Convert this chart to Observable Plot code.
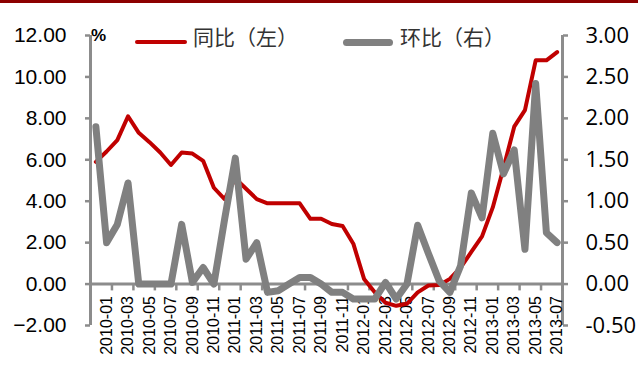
<!DOCTYPE html>
<html>
<head>
<meta charset="utf-8">
<script src="https://cdn.jsdelivr.net/npm/d3@7"></script>
<script src="https://cdn.jsdelivr.net/npm/@observablehq/plot@0.6"></script>
<style>
  html, body { margin: 0; padding: 0; background: #fff; }
  #chart { position: relative; width: 638px; height: 383px; overflow: hidden; }
  #chart svg { position: absolute; left: 0; top: 0; }
  #topbar { position: absolute; left: 0; top: 0; width: 638px; height: 3px; background: #8c0000; }
  .unit { position: absolute; left: 91px; top: 27px; font: bold 17px "Liberation Sans", Arial, sans-serif; color: #000; line-height: 17px; }
  .swatch { position: absolute; }
  .ltext { position: absolute; top: 26px; font-family: "Noto Sans CJK SC", sans-serif; font-size: 21px; line-height: 21px; color: #333; white-space: nowrap; }
</style>
</head>
<body>
<div id="chart">
  <div id="topbar"></div>
  <div class="unit">%</div>
  <div class="swatch" style="left:135px;top:40px;width:52px;height:4px;border-radius:2px;background:#c00000;"></div>
  <div class="ltext" style="left:193px;">同比（左）</div>
  <div class="swatch" style="left:343px;top:38.5px;width:50px;height:7px;border-radius:3.5px;background:#808080;"></div>
  <div class="ltext" style="left:400px;">环比（右）</div>
</div>
<script>
// Monthly periods, Dec 2009 – Jul 2013
const months = [
  "2009-12",
  "2010-01","2010-02","2010-03","2010-04","2010-05","2010-06","2010-07","2010-08","2010-09","2010-10","2010-11","2010-12",
  "2011-01","2011-02","2011-03","2011-04","2011-05","2011-06","2011-07","2011-08","2011-09","2011-10","2011-11","2011-12",
  "2012-01","2012-02","2012-03","2012-04","2012-05","2012-06","2012-07","2012-08","2012-09","2012-10","2012-11","2012-12",
  "2013-01","2013-02","2013-03","2013-04","2013-05","2013-06","2013-07"
];

// Year-on-year change, % (left axis)
const yoy = [
  5.9, 6.4, 6.95, 8.1, 7.3, 6.85, 6.35, 5.75, 6.35, 6.3,
  5.95, 4.65, 4.1, 5.1, 4.6, 4.1, 3.9, 3.9, 3.9, 3.9,
  3.15, 3.15, 2.9, 2.8, 1.95, 0.25, -0.4, -0.9, -1.05, -0.95,
  -0.4, -0.07, -0.05, 0.25, 0.8, 1.55, 2.3, 3.7, 5.6, 7.6,
  8.4, 10.8, 10.8, 11.2
];

// Month-on-month change, % (right axis)
const mom = [
  1.9, 0.5, 0.72, 1.22, 0, 0, 0, 0, 0.72, 0.02,
  0.2, 0.0, 0.78, 1.52, 0.3, 0.5, -0.1, -0.08, 0.0, 0.08,
  0.08, 0.0, -0.1, -0.1, -0.18, -0.18, -0.18, 0.02, -0.18, 0.0,
  0.71, 0.37, 0.04, -0.1, 0.22, 1.1, 0.8, 1.82, 1.33, 1.62,
  0.42, 2.42, 0.62, 0.5
];

// Axis ticks
const leftTicks = [-2, 0, 2, 4, 6, 8, 10, 12];
const rightRatio = 4; // right axis spans -0.50..3.00 against -2..12 on the left

const rows = months.map((m, i) => ({i, month: m, yoy: yoy[i], mom: mom[i]}));
// Category labels every other month, tick marks on the boundaries between pairs
const labelRows = rows.filter(d => d.i % 2 === 1);
const tickBounds = labelRows.map(d => d.i + 0.5);

const axisColor = "#8c8c8c";

const chart = Plot.plot({
  width: 638,
  height: 383,
  marginLeft: 90,
  marginRight: 76,
  marginTop: 35,
  marginBottom: 58,
  x: {domain: [-0.5, months.length - 0.5], axis: null},
  y: {domain: [-2, 12], axis: null},
  style: {background: "transparent", overflow: "visible"},
  marks: [
    // left and right axis lines
    Plot.ruleX([-0.5], {y1: -2, y2: 12, stroke: axisColor, strokeWidth: 3}),
    Plot.ruleX([months.length - 0.5], {y1: -2, y2: 12, stroke: axisColor, strokeWidth: 3}),
    Plot.axisY(leftTicks, {
      anchor: "left", label: null, tickSize: 5, tickPadding: 19, stroke: axisColor, strokeWidth: 2.5,
      tickFormat: d3.format(".2f"), fill: "#000", fontSize: 21, fontFamily: "Liberation Sans, Arial, sans-serif"
    }),
    Plot.axisY(leftTicks, {
      anchor: "right", label: null, tickSize: 5, tickPadding: 18, stroke: axisColor, strokeWidth: 2.5,
      tickFormat: d => (d / rightRatio).toFixed(2), fill: "#000", fontSize: 22, fontFamily: "Open Sans, sans-serif"
    }),
    // category axis along zero
    Plot.ruleY([0], {stroke: axisColor, strokeWidth: 3}),
    Plot.ruleX(tickBounds, {x: d => d, y1: 0, y2: -0.33, stroke: axisColor, strokeWidth: 2.5}),
    Plot.text(labelRows, {
      x: "i", y: () => 0, text: "month", rotate: -90, textAnchor: "end", lineAnchor: "middle",
      dy: 12, fontSize: 16, fontFamily: "Liberation Sans, Arial, sans-serif", fill: "#000"
    }),
    // series
    Plot.line(rows, {x: "i", y: "yoy", stroke: "#c00000", strokeWidth: 4, strokeLinejoin: "round"}),
    Plot.line(rows, {x: "i", y: d => d.mom * rightRatio, stroke: "#808080", strokeWidth: 7, strokeLinejoin: "round"})
  ]
});

document.getElementById("chart").prepend(chart);
</script>
</body>
</html>
